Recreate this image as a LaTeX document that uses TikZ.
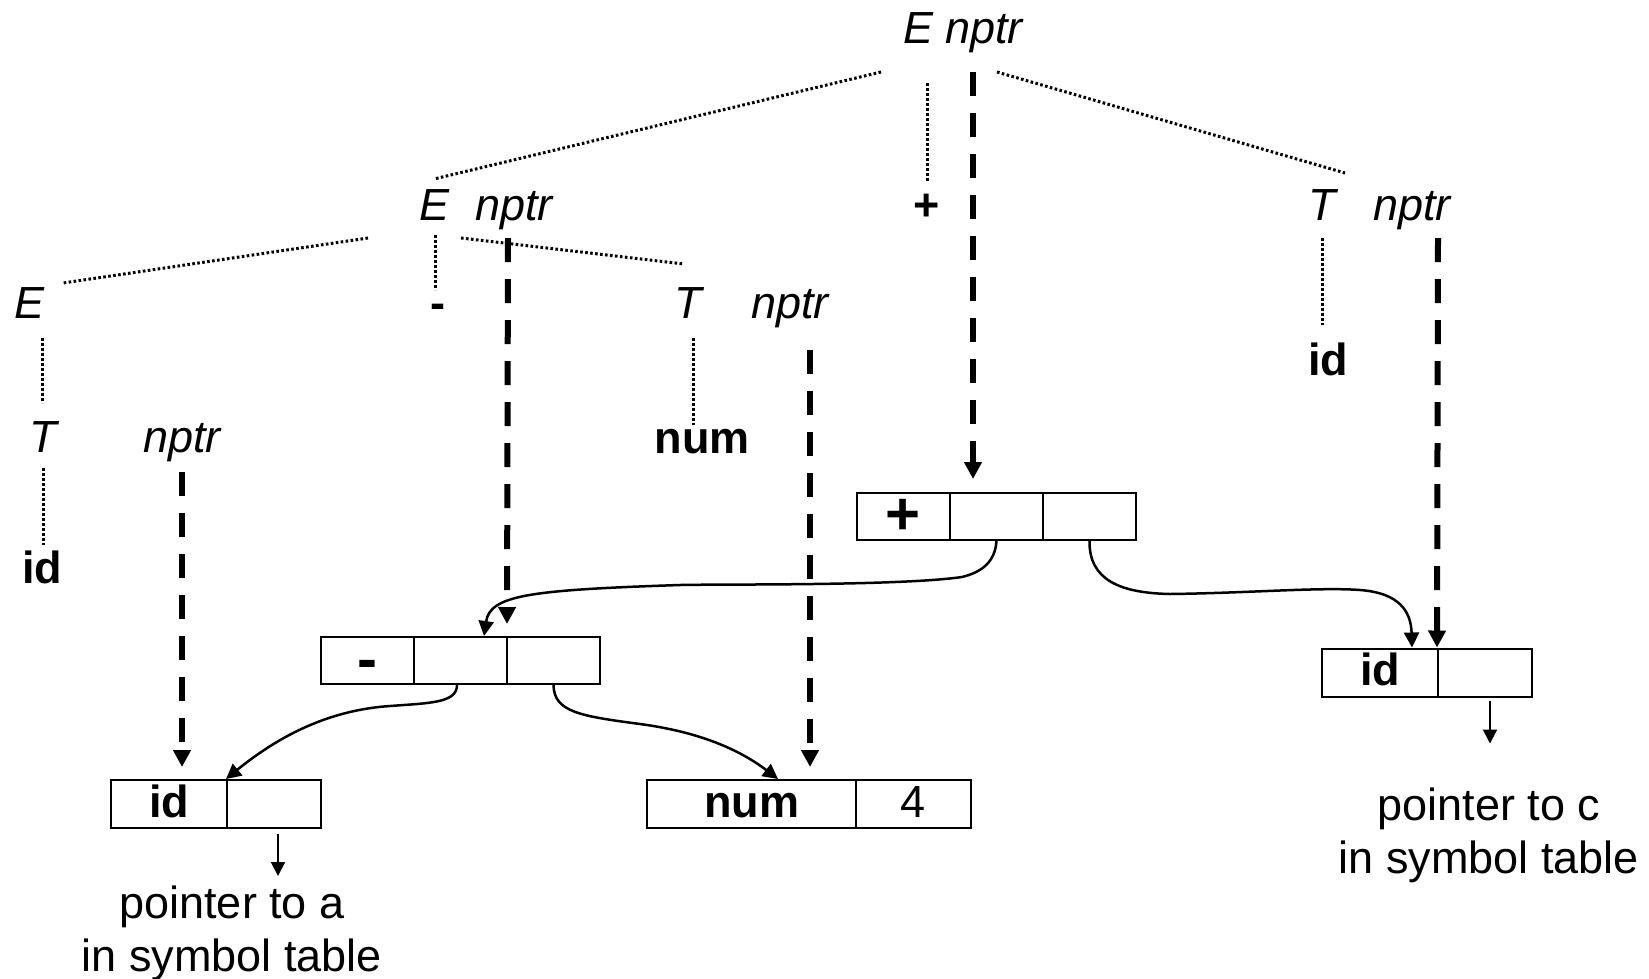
\documentclass[tikz,border=0pt]{standalone}
\usepackage{fontspec}
\setmainfont{Liberation Sans}
\usetikzlibrary{arrows.meta,calc}
\begin{document}
\begin{tikzpicture}[x=1pt,y=-1pt,
  sym/.style={anchor=base,inner sep=0pt,font=\fontsize{45}{54}\selectfont\itshape},
  term/.style={anchor=base,inner sep=0pt,font=\fontsize{45}{54}\selectfont\bfseries},
  note/.style={anchor=base,inner sep=0pt,align=center,font=\fontsize{45}{53}\selectfont},
  cell/.style={draw,line width=2pt,inner sep=0pt,minimum height=47pt,
    font=\fontsize{45}{54}\selectfont\bfseries},
  txtcell/.style={cell,minimum height=48pt,text height=37pt,text depth=11pt},
  opcell/.style={cell,font=\fontsize{60}{60}\selectfont\bfseries},
  tree/.style={line width=3pt,dash pattern=on 2.6pt off 2.4pt},
  nptrlink/.style={line width=6pt,dash pattern=on 24pt off 17pt,
    -{Triangle[length=17pt,width=17pt]}},
  link/.style={line width=2.5pt,-{Triangle[length=15pt,width=15pt]}},
  symlink/.style={line width=2pt,-{Triangle[length=14pt,width=14pt]}}]

\fill[white] (0,0) rectangle (1649,978);
\useasboundingbox (0,0) rectangle (1649,978);

% parse tree labels
\node[sym]  (E0) at (918,43)  {E};
\node[sym]  (P0) at (984,43)  {nptr};
\node[sym]  (E1) at (435,220) {E};
\node[sym]  (P1) at (514,220) {nptr};
\node[term] (plusT) at (927,220) {+};
\node[sym]  (T2) at (1322,220) {T};
\node[sym]  (P2) at (1412,220) {nptr};
\node[sym]  (E3) at (30,318)  {E};
\node[term] (minusT) at (438,318) {-};
\node[sym]  (T4) at (688,318) {T};
\node[sym]  (P4) at (790,318) {nptr};
\node[sym]  (T5) at (43,452)  {T};
\node[sym]  (P5) at (182,452) {nptr};
\node[term] (id5) at (42,583) {id};
\node[term] (num4) at (702,453) {num};
\node[term] (id2) at (1328,375) {id};

% syntax tree records
\node[opcell,minimum width=93pt] (pA) at (903.5,516.5) {+};
\node[cell,minimum width=93pt]   (pB) at (996.5,516.5) {};
\node[cell,minimum width=93pt]   (pC) at (1089.5,516.5) {};

\node[opcell,minimum width=93pt,text height=42.5pt,text depth=4.5pt] (mA) at (367.5,660.5) {-};
\node[cell,minimum width=93pt] (mB) at (460.5,660.5) {};
\node[cell,minimum width=93pt] (mC) at (553.5,660.5) {};

\node[txtcell,minimum width=116pt] (iA) at (169,804) {id};
\node[cell,minimum width=94pt,minimum height=48pt] (iB) at (274,804) {};

\node[txtcell,minimum width=209pt] (nA) at (751.5,804) {num};
\node[txtcell,minimum width=115pt,font=\fontsize{45}{54}\selectfont] (nB) at (913.5,804) {4};

\node[txtcell,minimum width=116pt] (rA) at (1380,672.5) {id};
\node[cell,minimum width=94pt,minimum height=48pt] (rB) at (1485,672.5) {};

% symbol table notes (base = baseline of the last line)
\node[note] (ptrA) at (232,971) {pointer to a\\in symbol table};
\node[note] (ptrC) at (1489,873) {pointer to c\\in symbol table};

% parse tree edges
\draw[tree] ($(E0.base)+(-37,29)$) -- ($(E1.base)+(-1,-41)$);
\draw[tree] ($(E0.base)+(9,40)$) -- ($(plusT.base)+(0,-38)$);
\draw[tree] ($(P0.base)+(13,29)$) -- ($(T2.base)+(23,-47)$);
\draw[tree] ($(E1.base)+(-67,18)$) -- ($(E3.base)+(33,-35)$);
\draw[tree] ($(E1.base)+(0,15)$) -- ($(minusT.base)+(-3,-28)$);
\draw[tree] ($(E1.base)+(26,18)$) -- ($(T4.base)+(-4,-54)$);
\draw[tree] ($(E3.base)+(12,20)$) -- ($(T5.base)+(-1,-49)$);
\draw[tree] ($(T5.base)+(0,16)$) -- ($(id5.base)+(1,-38)$);
\draw[tree] ($(T4.base)+(5,20)$) -- ($(num4.base)+(-9,-28)$);
\draw[tree] ($(T2.base)+(0,18)$) -- ($(id2.base)+(-6,-50)$);

% nptr attributes
\draw[nptrlink] ($(P0.base)+(-11,29)$) -- ($(pB.north)+(-23.5,-13)$);
\draw[nptrlink] ($(P1.base)+(-6,18)$) -- ($(mC.north west)+(1,-12)$);
\draw[nptrlink] ($(P4.base)+(20,32)$) -- ($(nA.north)+(58.5,-12)$);
\draw[nptrlink] ($(P5.base)+(0,20)$) -- ($(iA.north)+(13,-12)$);
\draw[nptrlink] ($(P2.base)+(26,18)$) -- (rB.north west);

% record pointers
\draw[link] (pB.south) .. controls (995,562) and (982,572) .. (962,577)
  .. controls (900,586) and (720,584) .. (680,585)
  .. controls (530,590) and (490,595) .. ($(mB.north)+(23.5,0)$);
\draw[link] (pC.south) .. controls (1089,580) and (1120,593) .. (1170,594)
  .. controls (1250,593) and (1320,587) .. (1360,590)
  .. controls (1400,593) and (1411,612) .. ($(rA.north)+(32,0)$);
\draw[link] ($(mB.south)+(-3.5,0)$) .. controls (457,703) and (430,703) .. (390,706)
  .. controls (330,710) and (280,735) .. (iB.north west);
\draw[link] (mC.south) .. controls (554,712) and (580,716) .. (640,724)
  .. controls (700,732) and (740,750) .. ($(nA.north)+(26.5,0)$);

\draw[symlink] ($(iB.south)+(4,5)$) -- ($(iB.south)+(4,47)$);
\draw[symlink] ($(rB.south)+(5,3)$) -- ($(rB.south)+(5,46)$);
\end{tikzpicture}
\end{document}
